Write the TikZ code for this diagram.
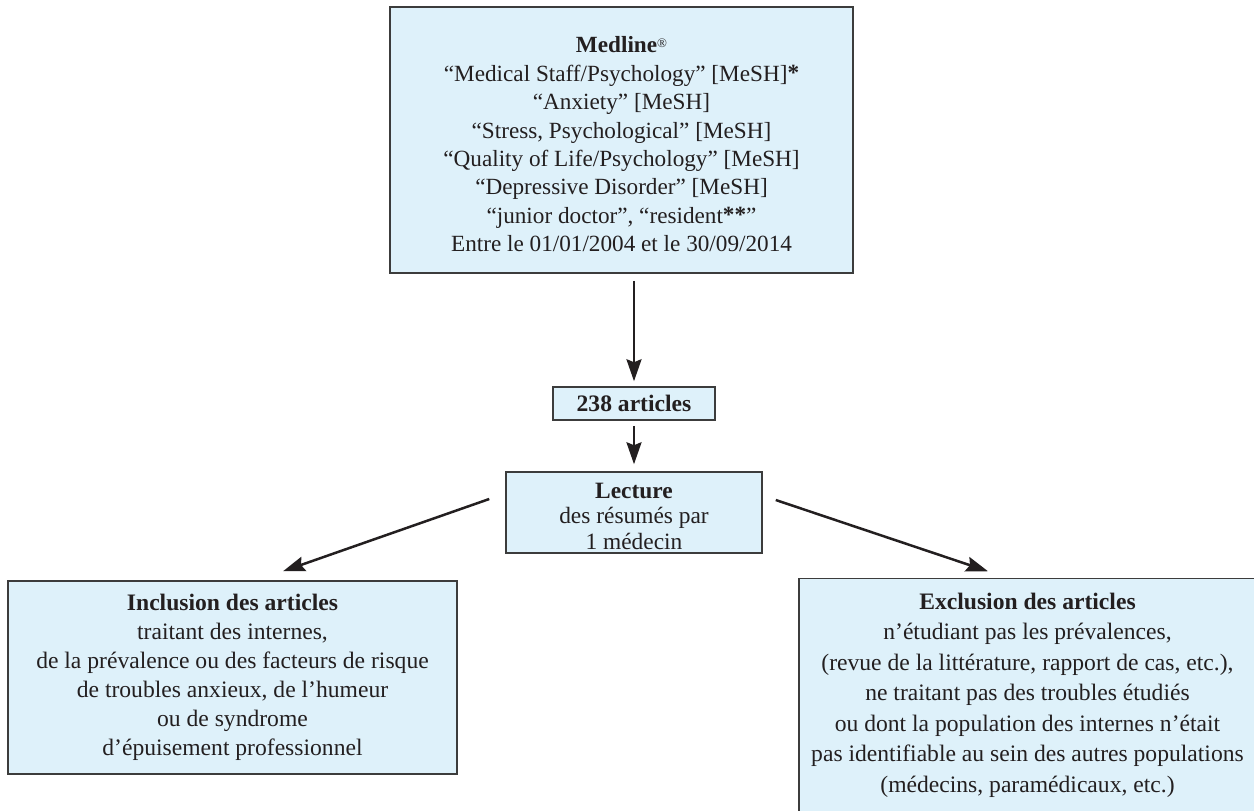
\documentclass[tikz,border=0pt]{standalone}
\usepackage{fontspec}
\setmainfont{Liberation Serif}
\usetikzlibrary{arrows.meta,calc}
\definecolor{boxfill}{HTML}{DEF1FA}
\definecolor{boxline}{HTML}{3C3C3C}
\definecolor{ink}{HTML}{231F20}
\newcommand{\regmark}{\raisebox{0.55ex}{\fontsize{6.5}{6.5}\selectfont ®}}
\newcommand{\bstar}[1]{\raisebox{0.1ex}{\textbf{#1}}}
\tikzset{
  box/.style={draw=boxline, fill=boxfill, line width=0.75pt, inner sep=0pt, align=center, text=ink},
  arr/.style={draw=ink, line width=1.25pt, -{Stealth[length=11pt,width=7.5pt,inset=1.5pt]}},
}
\begin{document}
\begin{tikzpicture}[x=0.5pt,y=-0.5pt]
\useasboundingbox (0,0) rectangle (1254,810);
\clip (0,0) rectangle (1254,810);
\fill[white] (0,0) rectangle (1254,810);

\node[box, minimum width=231.5pt, minimum height=133pt, font=\fontsize{11.6}{14.2}\selectfont] (top) at (621.5,140)
{\rule{0pt}{12.5pt}\textbf{Medline}\regmark\\
“Medical Staff/Psychology” [MeSH]\bstar{*}\\
“Anxiety” [MeSH]\\
“Stress, Psychological” [MeSH]\\
“Quality of Life/Psychology” [MeSH]\\
“Depressive Disorder” [MeSH]\\
“junior doctor”, “resident\bstar{**}”\\
Entre le 01/01/2004 et le 30/09/2014};

\node[box, minimum width=81pt, minimum height=16.5pt, font=\fontsize{11.8}{12.5}\selectfont] (a238) at (634,403.5)
{\textbf{238 articles}};

\node[box, minimum width=128pt, minimum height=40.5pt, font=\fontsize{11.7}{12.6}\selectfont] (lect) at (634,512.5)
{\rule{0pt}{11.5pt}\textbf{Lecture}\\des résumés par\\1 médecin};

\node[box, minimum width=224.5pt, minimum height=96.5pt, font=\fontsize{11.8}{14.5}\selectfont] (inc) at (232.5,677.5)
{\textbf{Inclusion des articles}\\
traitant des internes,\\
de la prévalence ou des facteurs de risque\\
de troubles anxieux, de l’humeur\\
ou de syndrome\\
d’épuisement professionnel};

\node[box, minimum width=228.5pt, minimum height=116.5pt, font=\fontsize{11.8}{15.25}\selectfont] (exc) at (1027.5,695)
{\textbf{Exclusion des articles}\\
n’étudiant pas les prévalences,\\
(revue de la littérature, rapport de cas, etc.),\\
ne traitant pas des troubles étudiés\\
ou dont la population des internes n’était\\
pas identifiable au sein des autres populations\\
(médecins, paramédicaux, etc.)};

\draw[arr, shorten <=3.5pt, shorten >=2.5pt] (top.south -| a238.north) -- (a238.north);
\draw[arr, shorten <=2.5pt, shorten >=3.5pt] (a238.south) -- (lect.north);
\draw[arr] ($(lect.west)+(-16,-13.5)$) -- ($(inc.north)+(50.5,-9)$);
\draw[arr] ($(lect.east)+(13,-12.5)$) -- ($(exc.north)+(-39.5,-6.5)$);
\end{tikzpicture}
\end{document}
